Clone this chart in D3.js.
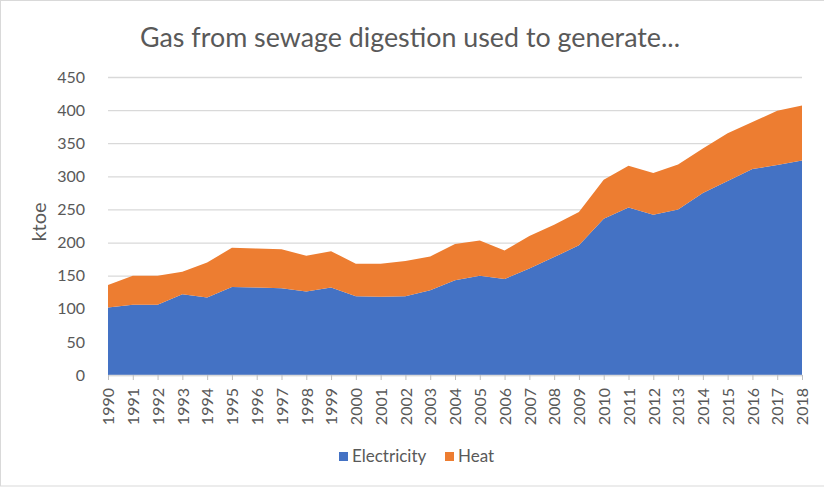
<!DOCTYPE html>
<html>
<head>
<meta charset="utf-8">
<script src="https://cdn.jsdelivr.net/npm/d3@7"></script>
<style>
  body { margin: 0; background: #fff; }
  text { font-family: Lato, "Open Sans", sans-serif; fill: #595959; }
</style>
</head>
<body>
<div id="chart"></div>
<script>
// Data (ktoe)
const years = d3.range(1990, 2019);
const electricity = [102, 106, 106, 122, 117, 133, 132, 131, 126, 132, 119, 118, 119, 128, 143, 150, 145, 161, 178, 196,
  236, 253, 242, 250, 275, 293, 311, 317, 324];
const heat = [34, 44, 44, 34, 53, 59, 59, 59, 54, 55, 49, 50, 53, 51, 55, 53, 43, 49, 49, 50,
  59, 63, 63, 68, 67, 72, 71, 82, 83];
const seriesNames = ["Electricity", "Heat"];
const seriesColors = ["#4472C4", "#ED7D31"];
const yTicks = [0, 50, 100, 150, 200, 250, 300, 350, 400, 450];

// Chart dimensions
const width = 824;
const height = 487;
const plot = { left: 108, right: 802, top: 77, bottom: 375 };

const svg = d3.select("#chart")
    .append("svg")
    .attr("width", width)
    .attr("height", height);

// chart border
svg.append("rect")
    .attr("x", 0.5).attr("y", 0.5)
    .attr("width", width + 10).attr("height", height - 1.5)
    .attr("fill", "#fff")
    .attr("stroke", "#d9d9d9");

const rows = years.map((y, i) => ({ year: y, Electricity: electricity[i], Heat: heat[i] }));

const x = d3.scalePoint().domain(years).range([plot.left, plot.right]);
const y = d3.scaleLinear().domain([0, 450]).range([plot.bottom, plot.top]);

// Gridlines + y labels
const yAxis = svg.append("g")
    .attr("transform", `translate(${plot.left},0)`)
    .call(d3.axisLeft(y).tickValues(yTicks).tickSize(-(plot.right - plot.left)).tickPadding(23));
yAxis.select(".domain").remove();
yAxis.selectAll(".tick line").attr("stroke", "#d9d9d9").attr("stroke-width", 1.3);
yAxis.selectAll(".tick text")
    .style("font-size", "16px")
    .style("font-family", "Lato, sans-serif")
    .attr("fill", "#595959");

// Stacked areas
const stack = d3.stack().keys(seriesNames);
const stacked = stack(rows);
const area = d3.area()
    .x((d) => x(d.data.year))
    .y0((d) => y(d[0]))
    .y1((d) => y(d[1]));

svg.append("g")
    .selectAll("path")
    .data(stacked)
    .join("path")
    .attr("d", area)
    .attr("fill", (d, i) => seriesColors[i]);

// X axis
const xAxis = svg.append("g")
    .attr("transform", `translate(0,${plot.bottom})`)
    .call(d3.axisBottom(x).tickSize(5).tickSizeOuter(0));
xAxis.select(".domain").attr("stroke", "#d9d9d9").attr("stroke-width", 1.3);
xAxis.selectAll(".tick line").attr("stroke", "#bfbfbf");
xAxis.selectAll(".tick text")
    .attr("transform", "rotate(-90)")
    .attr("text-anchor", "end")
    .attr("x", -13)
    .attr("y", 0)
    .attr("dy", "0.36em")
    .style("font-size", "16px")
    .style("font-family", "Lato, sans-serif")
    .attr("fill", "#595959");

// Y axis title
svg.append("text")
    .attr("transform", "translate(46,222) rotate(-90)")
    .attr("text-anchor", "middle")
    .style("font-size", "20px")
    .text("ktoe");

// Title, fitted to the reference width
const title = svg.append("text")
    .attr("x", 410)
    .attr("y", 47)
    .attr("text-anchor", "middle")
    .style("font-size", "24px")
    .text("Gas from sewage digestion used to generate...");
const tw = title.node().getComputedTextLength();
title.style("font-size", (24 * 540 / tw).toFixed(2) + "px");

// Legend
const legendX = [339, 445];
const legend = svg.append("g");
seriesNames.forEach((name, i) => {
    legend.append("rect")
        .attr("x", legendX[i]).attr("y", 452)
        .attr("width", 9).attr("height", 9)
        .attr("fill", seriesColors[i]);
    legend.append("text")
        .attr("x", legendX[i] + 13)
        .attr("y", 462)
        .style("font-size", "17px")
        .text(name);
});
</script>
</body>
</html>
